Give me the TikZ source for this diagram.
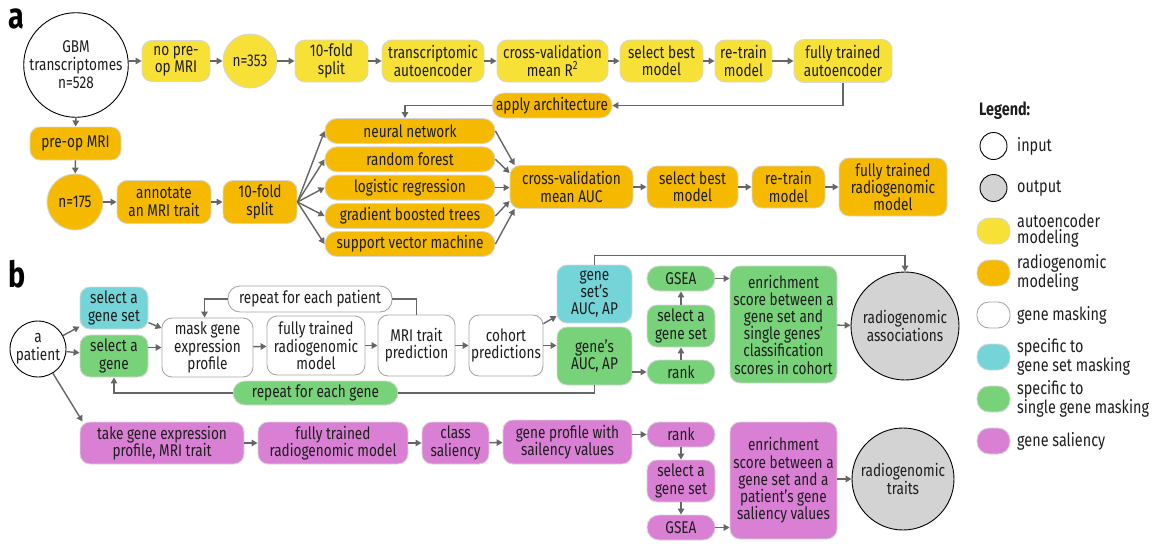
\documentclass[tikz,border=0pt]{standalone}
\usepackage{fontspec}
\setmainfont{Fira Sans}[FakeStretch=0.8]
\usetikzlibrary{arrows.meta,calc}

\definecolor{yel}{HTML}{F7E137}
\definecolor{org}{HTML}{F5B900}
\definecolor{cyn}{HTML}{74D4D8}
\definecolor{grn}{HTML}{78D27A}
\definecolor{mag}{HTML}{D980D4}
\definecolor{outc}{HTML}{D3D3D3}
\definecolor{bord}{HTML}{D6D6D6}
\definecolor{wbord}{HTML}{A8A8A8}
\definecolor{arrc}{HTML}{666666}
\definecolor{ink}{HTML}{1E1E1E}

\begin{document}
\begin{tikzpicture}[x=1pt,y=-1pt,
  box/.style={draw=bord, line width=0.9, rounded corners=10, align=center,
    inner sep=1, text=ink, font=\fontsize{17}{17.2}\selectfont},
  pill/.style={box, rounded corners=12},
  ring/.style={circle, draw=black, line width=0.9, align=center, inner sep=0,
    text=ink, font=\fontsize{17}{18}\selectfont},
  arr/.style={draw=arrc, line width=1.4, -{Triangle[length=6,width=6.5]}},
  lnk/.style={draw=arrc, line width=1.4},
  keytxt/.style={anchor=west, align=left, inner sep=0, text=ink,
    font=\fontsize{18}{16}\selectfont},
  keybox/.style={draw=bord, line width=0.9, rounded corners=12,
    minimum width=33, minimum height=26}]

  \useasboundingbox (0,0) rectangle (1156,544);

  % panel labels
  \node[anchor=base west, inner sep=0, font=\bfseries\fontsize{36}{36}\selectfont] (laba) at (8,28) {a};
  \node[anchor=base west, inner sep=0, font=\bfseries\fontsize{36}{36}\selectfont] (labb) at (8,287) {b};

  % ---- panel a: autoencoder row
  \node[ring, fill=white, minimum size=104] (gbm) at (76,65) {GBM\\transcriptomes\\n=528};
  \node[box, fill=yel, minimum width=68, minimum height=41] (nopre) at (176,61) {no pre-\\op MRI};
  \node[ring, draw=bord, fill=yel, minimum size=54] (n353) at (250,61) {n=353};
  \node[box, fill=yel, minimum width=73, minimum height=42] (splitA) at (331.5,61) {10-fold\\split};
  \node[box, fill=yel, minimum width=102, minimum height=42] (tae) at (433,61) {transcriptomic\\autoencoder};
  \node[box, fill=yel, minimum width=111, minimum height=42] (cvr) at (552.5,61) {cross-validation\\mean R\textsuperscript{2}};
  \node[box, fill=yel, minimum width=83, minimum height=42] (selA) at (661.5,61) {select best\\model};
  \node[box, fill=yel, minimum width=57, minimum height=42] (retA) at (743.5,61) {re-train\\model};
  \node[box, fill=yel, minimum width=98, minimum height=43] (ftae) at (843,61) {fully trained\\autoencoder};
  \node[pill, fill=org, minimum width=120, minimum height=25] (apply) at (552,105.5) {apply architecture};

  \draw[arr] (gbm.east |- nopre) -- (nopre);
  \draw[arr] (nopre) -- (n353);
  \draw[arr] (n353) -- (splitA);
  \draw[arr] (splitA) -- (tae);
  \draw[arr] (tae) -- (cvr);
  \draw[arr] (cvr) -- (selA);
  \draw[arr] (selA) -- (retA);
  \draw[arr] (retA) -- (ftae);
  \draw[arr] (ftae.south) |- (apply.east);

  % ---- panel a: radiogenomic row
  \node[box, fill=org, minimum width=91, minimum height=33] (preop) at (75.5,143.5) {pre-op MRI};
  \node[ring, draw=bord, fill=org, minimum size=56] (n175) at (75,202) {n=175};
  \node[box, fill=org, minimum width=94, minimum height=43] (annot) at (164,202) {annotate\\an MRI trait};
  \node[box, fill=org, minimum width=74, minimum height=43] (splitB) at (260,202) {10-fold\\split};

  \node[pill, fill=org, minimum width=170, minimum height=25] (nn) at (410,131) {neural network};
  \node[pill, fill=org, minimum width=170, minimum height=25] (rf) at (410,159.3) {random forest};
  \node[pill, fill=org, minimum width=170, minimum height=25] (lr) at (410,187.6) {logistic regression};
  \node[pill, fill=org, minimum width=170, minimum height=25] (gbt) at (410,216) {gradient boosted trees};
  \node[pill, fill=org, minimum width=170, minimum height=25] (svm) at (410,244) {support vector machine};

  \node[box, fill=org, minimum width=123, minimum height=43] (cvauc) at (571.5,187) {cross-validation\\mean AUC};
  \node[box, fill=org, minimum width=91, minimum height=42] (selB) at (692.5,187) {select best\\model};
  \node[box, fill=org, minimum width=73, minimum height=42] (retB) at (788.5,187) {re-train\\model};
  \node[box, fill=org, minimum width=108, minimum height=58] (ftrg) at (893,187) {fully trained\\radiogenomic\\model};

  \draw[arr] (gbm.south) -- (preop.north);
  \draw[arr] (preop) -- (n175);
  \draw[arr] (n175) -- (annot);
  \draw[arr] (annot) -- (splitB);
  \draw[arr] (apply.west) -| ([xshift=-5]nn.north);
  \draw[arr] (splitB.east) -- (nn.west);
  \draw[arr] (splitB.east) -- (rf.west);
  \draw[arr] (splitB.east) -- (lr.west);
  \draw[arr] (splitB.east) -- (gbt.west);
  \draw[arr] (splitB.east) -- (svm.west);
  \draw[arr] (nn.east) -- ($(cvauc.north west)+(5,0)$);
  \draw[arr] (rf.east) -- ($(cvauc.west)+(0,-14)$);
  \draw[arr] (lr.east) -- (cvauc.west |- lr);
  \draw[arr] (gbt.east) -- ($(cvauc.west)+(0,14)$);
  \draw[arr] (svm.east) -- ($(cvauc.south west)+(5,0)$);
  \draw[arr] (cvauc) -- (selB);
  \draw[arr] (selB) -- (retB);
  \draw[arr] (retB) -- (ftrg);

  % ---- panel b: masking
  \node[ring, fill=white, minimum size=56] (pat) at (38,349) {a\\patient};
  \node[box, fill=cyn, minimum width=68, minimum height=42] (selgs) at (114,308) {select a\\gene set};
  \node[box, fill=grn, minimum width=68, minimum height=42] (selg) at (114,356) {select a\\gene};
  \node[pill, draw=wbord, fill=white, minimum width=164, minimum height=26] (repP) at (310,299) {repeat for each patient};
  \node[box, draw=wbord, fill=white, minimum width=91, minimum height=59] (mask) at (207.5,347.5) {mask gene\\expression\\profile};
  \node[box, draw=wbord, fill=white, minimum width=98, minimum height=59] (ftrm) at (316,345.5) {fully trained\\radiogenomic\\model};
  \node[box, draw=wbord, fill=white, minimum width=77, minimum height=61] (mri) at (416.5,345.5) {MRI trait\\prediction};
  \node[pill, fill=grn, minimum width=165, minimum height=24] (repG) at (315.5,393) {repeat for each gene};
  \node[box, draw=wbord, fill=white, minimum width=74, minimum height=61] (coh) at (506,345.5) {cohort\\predictions};
  \node[box, fill=cyn, minimum width=75, minimum height=58] (gsauc) at (594.5,294) {gene\\set’s\\AUC, AP};
  \node[box, fill=grn, minimum width=75, minimum height=58] (gauc) at (594.5,356) {gene’s\\AUC, AP};
  \node[pill, fill=grn, minimum width=68, minimum height=25] (gseaA) at (681,278.5) {GSEA};
  \node[box, fill=grn, minimum width=68, minimum height=42] (selgsA) at (681,326) {select a\\gene set};
  \node[pill, fill=grn, minimum width=68, minimum height=24] (rankA) at (681,372) {rank};
  \node[box, fill=grn, minimum width=107, minimum height=117] (enrA) at (783.5,324.5) {enrichment\\score between a\\gene set and\\single genes’\\classification\\scores in cohort};
  \node[ring, fill=outc, minimum size=108] (assoc) at (905,326) {radiogenomic\\associations};

  \draw[arr] (pat) -- (selgs);
  \draw[arr] (pat) -- (selg);
  \draw[arr] (selgs) -- (mask);
  \draw[arr] (selg.east |- mask) -- (mask.west);
  \draw[arr] (mask) -- (ftrm);
  \draw[arr] (ftrm) -- (mri);
  \draw[arr] (mri) -- (coh);
  \draw[lnk] (mri.north) |- (repP.east);
  \draw[arr] (repP.west) -| ([xshift=-3]mask.north);
  \draw[arr] (coh) -- (gsauc);
  \draw[arr] (coh) -- (gauc.west |- coh);
  \draw[lnk] (gauc.south) |- (repG.east);
  \draw[arr] (repG.west) -| (selg.south);
  \draw[arr] (gsauc.north) -- ++(0,-9) -| (assoc.north);
  \draw[arr] (gauc.east |- rankA) -- (rankA.west);
  \draw[arr] (rankA) -- (selgsA);
  \draw[arr] (selgsA) -- (gseaA);
  \draw[arr] (gseaA) -- (enrA.west |- gseaA);
  \draw[arr] (enrA) -- (assoc);

  % ---- panel b: saliency
  \node[box, fill=mag, minimum width=164, minimum height=42] (take) at (162,443) {take gene expression\\profile, MRI trait};
  \node[box, fill=mag, minimum width=150, minimum height=42] (ftrs) at (333,443) {fully trained\\radiogenomic model};
  \node[box, fill=mag, minimum width=67, minimum height=42] (cls) at (455.5,443) {class\\saliency};
  \node[box, fill=mag, minimum width=129, minimum height=44] (gprof) at (567.5,442) {gene profile with\\sailency values};
  \node[pill, fill=mag, minimum width=68, minimum height=25] (rankB) at (681,434.5) {rank};
  \node[box, fill=mag, minimum width=68, minimum height=42] (selgsB) at (681,481) {select a\\gene set};
  \node[pill, fill=mag, minimum width=68, minimum height=25] (gseaB) at (681,527.5) {GSEA};
  \node[box, fill=mag, minimum width=107, minimum height=117] (enrB) at (783.5,480.5) {enrichment\\score between a\\gene set and a\\patient’s gene\\saliency values};
  \node[ring, fill=outc, minimum size=102] (traits) at (903,479) {radiogenomic\\traits};

  \draw[arr] (pat) -- ([xshift=3]take.north west);
  \draw[arr] (take) -- (ftrs);
  \draw[arr] (ftrs) -- (cls);
  \draw[arr] (cls) -- (gprof);
  \draw[arr] (gprof.east |- rankB) -- (rankB.west);
  \draw[arr] (rankB) -- (selgsB);
  \draw[arr] (selgsB) -- (gseaB);
  \draw[arr] (gseaB) -- (enrB.west |- gseaB);
  \draw[arr] (enrB.east |- traits) -- (traits);

  % ---- legend
  \node[anchor=base west, inner sep=0, text=ink, font=\bfseries\fontsize{18}{18}\selectfont] (legend) at (979,115) {Legend:};
  \node[circle, draw=black, line width=0.9, fill=white, minimum size=27] (kin) at (993.5,146) {};
  \node[keytxt] at (1017,146) {input};
  \node[circle, draw=black, line width=0.9, fill=outc, minimum size=27] (kout) at (993.5,188) {};
  \node[keytxt] at (1017,188) {output};
  \node[keybox, fill=yel] (kae) at (993.5,231) {};
  \node[keytxt] at (1017,231) {autoencoder\\modeling};
  \node[keybox, fill=org] (krg) at (993.5,273) {};
  \node[keytxt] at (1017,273) {radiogenomic\\modeling};
  \node[keybox, draw=wbord, fill=white] (kgm) at (993.5,315) {};
  \node[keytxt] at (1017,315) {gene masking};
  \node[keybox, fill=cyn] (kgs) at (993.5,357) {};
  \node[keytxt] at (1017,357) {specific to\\gene set masking};
  \node[keybox, fill=grn] (ksg) at (993.5,399) {};
  \node[keytxt] at (1017,399) {specific to\\single gene masking};
  \node[keybox, fill=mag] (ksal) at (993.5,441) {};
  \node[keytxt] at (1017,441) {gene saliency};

\end{tikzpicture}
\end{document}
